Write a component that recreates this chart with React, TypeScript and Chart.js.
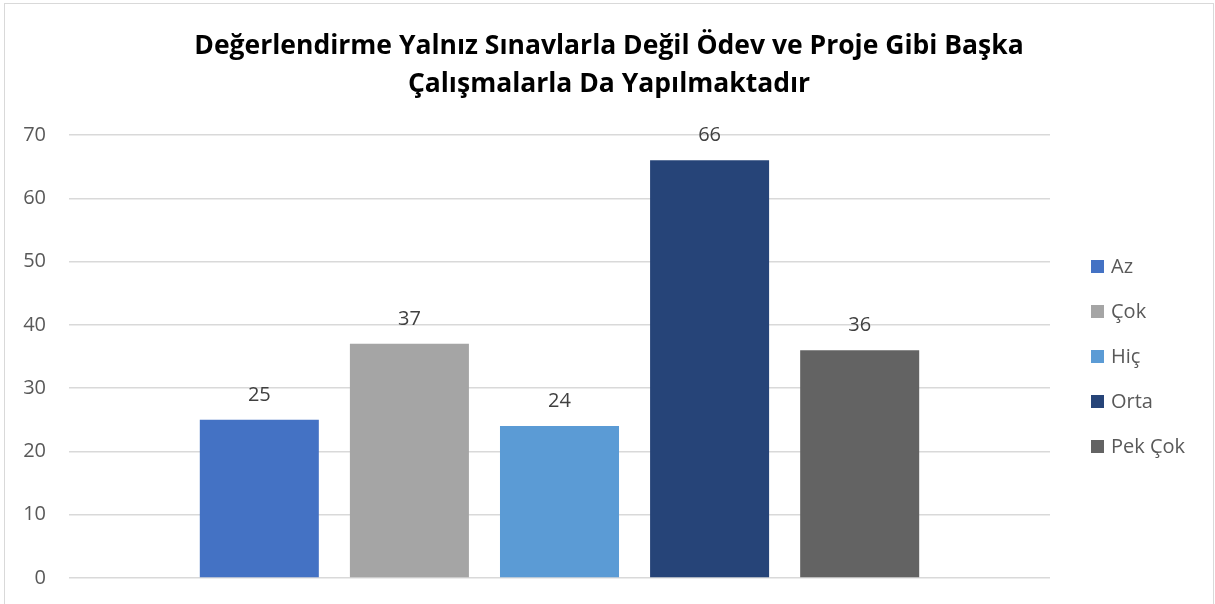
import React, { useEffect, useRef } from "react";
import { Chart, registerables } from "chart.js";

Chart.register(...registerables);

const titleLines = [
  "Değerlendirme Yalnız Sınavlarla Değil Ödev ve Proje Gibi Başka",
  "Çalışmalarla Da Yapılmaktadır",
];
const categories = [""];
const seriesNames = ["Az", "Çok", "Hiç", "Orta", "Pek Çok"];
const seriesValues = [25, 37, 24, 66, 36];
const seriesColors = ["#4472C4", "#A5A5A5", "#5B9BD5", "#264478", "#636363"];
const yMin = 0;
const yMax = 70;
const yStep = 10;

const FONT = '"Open Sans", "Noto Sans", sans-serif';

const borderPlugin = {
  id: "outerBorder",
  beforeDraw(chart: any) {
    const { ctx } = chart;
    ctx.save();
    ctx.fillStyle = "#ffffff";
    ctx.fillRect(0, 0, chart.width, chart.height);
    ctx.strokeStyle = "#D9D9D9";
    ctx.lineWidth = 1;
    ctx.strokeRect(4.5, 3.5, chart.width - 6, chart.height + 20);
    ctx.restore();
  },
};

const dataLabelPlugin = {
  id: "dataLabels",
  afterDatasetsDraw(chart: any) {
    const { ctx } = chart;
    ctx.save();
    ctx.font = `20px ${FONT}`;
    ctx.fillStyle = "#404040";
    ctx.textAlign = "center";
    ctx.textBaseline = "alphabetic";
    chart.data.datasets.forEach((ds: any, i: number) => {
      const meta = chart.getDatasetMeta(i);
      meta.data.forEach((el: any, j: number) => {
        ctx.fillText(String(ds.data[j]), el.x, el.y - 19);
      });
    });
    ctx.restore();
  },
};

const legendPlugin = {
  id: "sideLegend",
  afterDraw(chart: any) {
    const { ctx, chartArea } = chart;
    const ds = chart.data.datasets;
    const mid = (chartArea.top + chartArea.bottom) / 2;
    const n = ds.length;
    ctx.save();
    ctx.font = `20px ${FONT}`;
    ctx.textBaseline = "middle";
    ctx.textAlign = "left";
    ds.forEach((d: any, i: number) => {
      const cy = mid + (i - (n - 1) / 2) * 45;
      ctx.fillStyle = d.backgroundColor;
      ctx.fillRect(chartArea.right + 41, cy - 6.5, 13, 13);
      ctx.fillStyle = "#595959";
      ctx.fillText(d.label, chartArea.right + 61, cy + 1);
    });
    ctx.restore();
  },
};

export default function App() {
  const canvasRef = useRef<HTMLCanvasElement | null>(null);

  useEffect(() => {
    if (!canvasRef.current) return;
    const chart = new Chart(canvasRef.current, {
      type: "bar",
      data: {
        labels: categories,
        datasets: seriesNames.map((name, i) => ({
          label: name,
          data: [seriesValues[i]],
          backgroundColor: seriesColors[i],
          borderWidth: 0,
          yAxisID: "y",
          categoryPercentage: 0.765,
          barPercentage: 0.793,
        })),
      },
      options: {
        animation: false,
        responsive: false,
        maintainAspectRatio: false,
        layout: { padding: { left: 3, right: 0, top: 0, bottom: 26 } },
        plugins: {
          legend: { display: false },
          tooltip: { enabled: false },
          title: {
            display: true,
            text: titleLines,
            color: "#000000",
            font: { family: FONT, size: 26.5, weight: "bold", lineHeight: 1.434 },
            padding: { top: 27, bottom: 32 },
          },
        },
        scales: {
          x: {
            display: false,
            grid: { display: false },
          },
          y: {
            position: "left",
            min: yMin,
            max: yMax,
            ticks: {
              stepSize: yStep,
              padding: 23,
              color: "#595959",
              font: { family: FONT, size: 20 },
            },
            grid: { color: "#D9D9D9", lineWidth: 1.5, drawTicks: false },
            border: { display: false },
            afterFit: (s: any) => {
              s.width = 66;
              s.paddingTop = 0;
              s.paddingBottom = 0;
            },
          },
          yR: {
            position: "right",
            display: true,
            ticks: { display: false },
            grid: { display: false, drawTicks: false },
            border: { display: false },
            afterFit: (s: any) => {
              s.width = 165;
              s.paddingTop = 0;
              s.paddingBottom = 0;
            },
          },
        },
      } as any,
      plugins: [borderPlugin, dataLabelPlugin, legendPlugin],
    });
    return () => chart.destroy();
  }, []);

  return (
    <div style={{ position: "absolute", left: 0, top: 0, width: 1215, height: 604 }}>
      <canvas ref={canvasRef} width={1215} height={604} style={{ display: "block" }} />
    </div>
  );
}
